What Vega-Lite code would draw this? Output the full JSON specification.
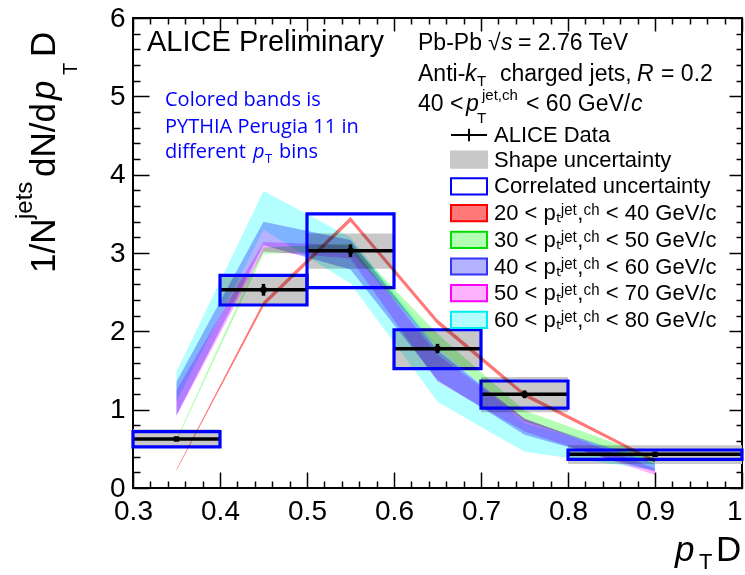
{
  "$schema": "https://vega.github.io/schema/vega-lite/v6.json",
  "width": 609,
  "height": 470,
  "autosize": "none",
  "padding": {"left": 133, "top": 18, "right": 3, "bottom": 87},
  "background": "white",
  "config": {
    "font": "Liberation Sans",
    "view": {"stroke": "black", "strokeWidth": 2},
    "text": {"font": "Liberation Sans", "color": "black", "align": "left", "baseline": "alphabetic"},
    "legend": {"title": null, "orient": "none", "legendX": 325, "legendY": 106, "padding": 0,
      "symbolSize": 324, "labelFont": "Liberation Sans", "labelFontSize": 22, "labelColor": "black",
      "labelOffset": 14, "rowPadding": 0.7, "labelLimit": 400, "symbolStrokeWidth": 2, "symbolOpacity": 1}
  },
  "resolve": {"axis": {"x": "independent", "y": "independent"}},
  "layer": [
    {
      "data": {"name": "alice", "values": [
        {"lo": 0.3, "hi": 0.4, "c": 0.35, "v": 0.626, "elo": 0.60, "ehi": 0.65, "slo": 0.51, "shi": 0.75, "clo": 0.525, "chi": 0.72},
        {"lo": 0.4, "hi": 0.5, "c": 0.45, "v": 2.53, "elo": 2.455, "ehi": 2.605, "slo": 2.34, "shi": 2.71, "clo": 2.336, "chi": 2.715},
        {"lo": 0.5, "hi": 0.6, "c": 0.55, "v": 3.03, "elo": 2.95, "ehi": 3.11, "slo": 2.80, "shi": 3.25, "clo": 2.557, "chi": 3.50},
        {"lo": 0.6, "hi": 0.7, "c": 0.65, "v": 1.778, "elo": 1.72, "ehi": 1.84, "slo": 1.53, "shi": 2.01, "clo": 1.525, "chi": 2.02},
        {"lo": 0.7, "hi": 0.8, "c": 0.75, "v": 1.196, "elo": 1.146, "ehi": 1.246, "slo": 0.966, "shi": 1.417, "clo": 1.02, "chi": 1.366},
        {"lo": 0.8, "hi": 1.0, "c": 0.9, "v": 0.43, "elo": 0.41, "ehi": 0.45, "slo": 0.306, "shi": 0.545, "clo": 0.366, "chi": 0.485}
      ]},
      "mark": {"type": "rect", "color": "#c8c8c8"},
      "encoding": {
        "x": {"field": "lo", "type": "quantitative", "scale": {"domain": [0.3, 1.0], "nice": false, "zero": false},
          "axis": {"orient": "bottom", "title": null, "domain": false, "grid": false,
            "values": [0.3,0.32,0.34,0.36,0.38,0.4,0.42,0.44,0.46,0.48,0.5,0.52,0.54,0.56,0.58,0.6,0.62,0.64,0.66,0.68,0.7,0.72,0.74,0.76,0.78,0.8,0.82,0.84,0.86,0.88,0.9,0.92,0.94,0.96,0.98,1.0],
            "labelExpr": "abs(datum.value*10 - round(datum.value*10)) < 0.001 ? (abs(datum.value - 1) < 0.001 ? '1' : format(datum.value, '.1f')) : ''",
            "labelFont": "Liberation Sans", "labelFontSize": 28, "labelColor": "black", "labelPadding": 25,
            "labelFlush": false, "labelOverlap": false, "labelBound": false,
            "labelAlign": {"condition": {"test": "datum.value > 0.999", "value": "right"}, "value": "center"},
            "tickColor": "black", "tickWidth": 1.5,
            "tickSize": {"condition": {"test": "abs(datum.value*10 - round(datum.value*10)) < 0.001", "value": -16}, "value": -7}}},
        "x2": {"field": "hi"},
        "y": {"field": "slo", "type": "quantitative", "scale": {"domain": [0, 6], "nice": false, "zero": false},
          "axis": {"orient": "left", "title": null, "domain": false, "grid": false,
            "values": [0,0.2,0.4,0.6,0.8,1,1.2,1.4,1.6,1.8,2,2.2,2.4,2.6,2.8,3,3.2,3.4,3.6,3.8,4,4.2,4.4,4.6,4.8,5,5.2,5.4,5.6,5.8,6],
            "labelExpr": "abs(datum.value - round(datum.value)) < 0.001 ? format(datum.value, 'd') : ''",
            "labelFont": "Liberation Sans", "labelFontSize": 28, "labelColor": "black", "labelPadding": 24,
            "labelFlush": false, "labelOverlap": false, "labelBound": false,
            "tickColor": "black", "tickWidth": 1.5,
            "tickSize": {"condition": {"test": "abs(datum.value - round(datum.value)) < 0.001", "value": -16}, "value": -7}}},
        "y2": {"field": "shi"}
      }
    },
    {
      "data": {"name": "alice"},
      "mark": {"type": "rule", "strokeWidth": 3.5, "color": "black"},
      "encoding": {
        "x": {"field": "lo", "type": "quantitative", "axis": null},
        "x2": {"field": "hi"},
        "y": {"field": "v", "type": "quantitative", "axis": null}
      }
    },
    {
      "data": {"name": "alice"},
      "mark": {"type": "rule", "strokeWidth": 3.5, "color": "black"},
      "encoding": {
        "x": {"field": "c", "type": "quantitative", "axis": null},
        "y": {"field": "elo", "type": "quantitative", "axis": null},
        "y2": {"field": "ehi"}
      }
    },
    {
      "data": {"name": "alice"},
      "mark": {"type": "point", "shape": "square", "filled": true, "size": 30, "color": "black", "opacity": 1},
      "encoding": {
        "x": {"field": "c", "type": "quantitative", "axis": null},
        "y": {"field": "v", "type": "quantitative", "axis": null}
      }
    },
    {
      "data": {"name": "alice"},
      "mark": {"type": "rect", "filled": false, "strokeWidth": 3.2, "stroke": "#0000ff", "fill": null},
      "encoding": {
        "x": {"field": "lo", "type": "quantitative",
          "axis": {"orient": "top", "title": null, "domain": false, "grid": false, "labels": false,
            "values": [0.3,0.32,0.34,0.36,0.38,0.4,0.42,0.44,0.46,0.48,0.5,0.52,0.54,0.56,0.58,0.6,0.62,0.64,0.66,0.68,0.7,0.72,0.74,0.76,0.78,0.8,0.82,0.84,0.86,0.88,0.9,0.92,0.94,0.96,0.98,1.0],
            "tickColor": "black", "tickWidth": 1.5,
            "tickSize": {"condition": {"test": "abs(datum.value*10 - round(datum.value*10)) < 0.001", "value": -13}, "value": -6}}},
        "x2": {"field": "hi"},
        "y": {"field": "clo", "type": "quantitative",
          "axis": {"orient": "right", "title": null, "domain": false, "grid": false, "labels": false,
            "values": [0,0.2,0.4,0.6,0.8,1,1.2,1.4,1.6,1.8,2,2.2,2.4,2.6,2.8,3,3.2,3.4,3.6,3.8,4,4.2,4.4,4.6,4.8,5,5.2,5.4,5.6,5.8,6],
            "tickColor": "black", "tickWidth": 1.5,
            "tickSize": {"condition": {"test": "abs(datum.value - round(datum.value)) < 0.001", "value": -13}, "value": -6}}},
        "y2": {"field": "chi"}
      }
    },
    {
      "data": {"values": [
        {"bin": "60 < pₜʲᵉᵗ,ᶜʰ < 80 GeV/c", "x": 0.35, "lo": 1.10, "hi": 1.485},
        {"bin": "60 < pₜʲᵉᵗ,ᶜʰ < 80 GeV/c", "x": 0.45, "lo": 3.30, "hi": 3.79},
        {"bin": "60 < pₜʲᵉᵗ,ᶜʰ < 80 GeV/c", "x": 0.55, "lo": 2.61, "hi": 3.20},
        {"bin": "60 < pₜʲᵉᵗ,ᶜʰ < 80 GeV/c", "x": 0.65, "lo": 1.10, "hi": 1.80},
        {"bin": "60 < pₜʲᵉᵗ,ᶜʰ < 80 GeV/c", "x": 0.75, "lo": 0.463, "hi": 0.826},
        {"bin": "60 < pₜʲᵉᵗ,ᶜʰ < 80 GeV/c", "x": 0.9, "lo": 0.23, "hi": 0.357},
        {"bin": "50 < pₜʲᵉᵗ,ᶜʰ < 70 GeV/c", "x": 0.35, "lo": 0.92, "hi": 1.25},
        {"bin": "50 < pₜʲᵉᵗ,ᶜʰ < 70 GeV/c", "x": 0.45, "lo": 3.02, "hi": 3.14},
        {"bin": "50 < pₜʲᵉᵗ,ᶜʰ < 70 GeV/c", "x": 0.55, "lo": 2.93, "hi": 3.10},
        {"bin": "50 < pₜʲᵉᵗ,ᶜʰ < 70 GeV/c", "x": 0.65, "lo": 1.36, "hi": 1.70},
        {"bin": "50 < pₜʲᵉᵗ,ᶜʰ < 70 GeV/c", "x": 0.75, "lo": 0.72, "hi": 0.89},
        {"bin": "50 < pₜʲᵉᵗ,ᶜʰ < 70 GeV/c", "x": 0.9, "lo": 0.166, "hi": 0.25},
        {"bin": "40 < pₜʲᵉᵗ,ᶜʰ < 60 GeV/c", "x": 0.35, "lo": 0.932, "hi": 1.357},
        {"bin": "40 < pₜʲᵉᵗ,ᶜʰ < 60 GeV/c", "x": 0.45, "lo": 3.10, "hi": 3.40},
        {"bin": "40 < pₜʲᵉᵗ,ᶜʰ < 60 GeV/c", "x": 0.55, "lo": 2.79, "hi": 3.166},
        {"bin": "40 < pₜʲᵉᵗ,ᶜʰ < 60 GeV/c", "x": 0.65, "lo": 1.38, "hi": 1.76},
        {"bin": "40 < pₜʲᵉᵗ,ᶜʰ < 60 GeV/c", "x": 0.75, "lo": 0.68, "hi": 0.88},
        {"bin": "40 < pₜʲᵉᵗ,ᶜʰ < 60 GeV/c", "x": 0.9, "lo": 0.21, "hi": 0.31},
        {"bin": "30 < pₜʲᵉᵗ,ᶜʰ < 50 GeV/c", "x": 0.35, "lo": 0.60, "hi": 0.625},
        {"bin": "30 < pₜʲᵉᵗ,ᶜʰ < 50 GeV/c", "x": 0.45, "lo": 2.99, "hi": 3.07},
        {"bin": "30 < pₜʲᵉᵗ,ᶜʰ < 50 GeV/c", "x": 0.55, "lo": 3.02, "hi": 3.12},
        {"bin": "30 < pₜʲᵉᵗ,ᶜʰ < 50 GeV/c", "x": 0.65, "lo": 1.79, "hi": 1.97},
        {"bin": "30 < pₜʲᵉᵗ,ᶜʰ < 50 GeV/c", "x": 0.75, "lo": 0.85, "hi": 0.99},
        {"bin": "30 < pₜʲᵉᵗ,ᶜʰ < 50 GeV/c", "x": 0.9, "lo": 0.32, "hi": 0.39},
        {"bin": "20 < pₜʲᵉᵗ,ᶜʰ < 40 GeV/c", "x": 0.35, "lo": 0.222, "hi": 0.238},
        {"bin": "20 < pₜʲᵉᵗ,ᶜʰ < 40 GeV/c", "x": 0.45, "lo": 2.32, "hi": 2.38},
        {"bin": "20 < pₜʲᵉᵗ,ᶜʰ < 40 GeV/c", "x": 0.55, "lo": 3.40, "hi": 3.46},
        {"bin": "20 < pₜʲᵉᵗ,ᶜʰ < 40 GeV/c", "x": 0.65, "lo": 2.09, "hi": 2.15},
        {"bin": "20 < pₜʲᵉᵗ,ᶜʰ < 40 GeV/c", "x": 0.75, "lo": 1.165, "hi": 1.215},
        {"bin": "20 < pₜʲᵉᵗ,ᶜʰ < 40 GeV/c", "x": 0.9, "lo": 0.325, "hi": 0.365}
      ]},
      "mark": {"type": "area", "interpolate": "linear", "opacity": 1, "blend": "multiply"},
      "encoding": {
        "x": {"field": "x", "type": "quantitative", "axis": null},
        "y": {"field": "lo", "type": "quantitative", "axis": null},
        "y2": {"field": "hi"},
        "color": {"field": "bin", "type": "nominal",
          "scale": {"domain": ["ALICE Data", "Shape uncertainty", "Correlated uncertainty", "20 < pₜʲᵉᵗ,ᶜʰ < 40 GeV/c", "30 < pₜʲᵉᵗ,ᶜʰ < 50 GeV/c", "40 < pₜʲᵉᵗ,ᶜʰ < 60 GeV/c", "50 < pₜʲᵉᵗ,ᶜʰ < 70 GeV/c", "60 < pₜʲᵉᵗ,ᶜʰ < 80 GeV/c"],
            "range": ["#000000", "#c8c8c8", "#ffffff", "#ff7777", "#b3ffb3", "#b3b3ff", "#ffb3ff", "#b3ffff"]}}
      }
    },
    {
      "data": {"values": [
        {"bin": "ALICE Data"}, {"bin": "Shape uncertainty"}, {"bin": "Correlated uncertainty"},
        {"bin": "20 < pₜʲᵉᵗ,ᶜʰ < 40 GeV/c"}, {"bin": "30 < pₜʲᵉᵗ,ᶜʰ < 50 GeV/c"}, {"bin": "40 < pₜʲᵉᵗ,ᶜʰ < 60 GeV/c"},
        {"bin": "50 < pₜʲᵉᵗ,ᶜʰ < 70 GeV/c"}, {"bin": "60 < pₜʲᵉᵗ,ᶜʰ < 80 GeV/c"}
      ]},
      "mark": {"type": "point", "filled": true, "opacity": 1, "size": 324, "strokeWidth": 2, "clip": true},
      "encoding": {
        "x": {"datum": 0.35, "type": "quantitative", "axis": null},
        "y": {"datum": -5, "type": "quantitative", "axis": null},
        "color": {"field": "bin", "type": "nominal"},
        "shape": {"field": "bin", "type": "nominal",
          "scale": {"domain": ["ALICE Data", "Shape uncertainty", "Correlated uncertainty", "20 < pₜʲᵉᵗ,ᶜʰ < 40 GeV/c", "30 < pₜʲᵉᵗ,ᶜʰ < 50 GeV/c", "40 < pₜʲᵉᵗ,ᶜʰ < 60 GeV/c", "50 < pₜʲᵉᵗ,ᶜʰ < 70 GeV/c", "60 < pₜʲᵉᵗ,ᶜʰ < 80 GeV/c"],
            "range": ["M-2,0H2M0,-0.7V0.7", "M-2,-0.9H2V0.9H-2Z", "M-2,-0.9H2V0.9H-2Z", "M-2,-0.9H2V0.9H-2Z", "M-2,-0.9H2V0.9H-2Z", "M-2,-0.9H2V0.9H-2Z", "M-2,-0.9H2V0.9H-2Z", "M-2,-0.9H2V0.9H-2Z"]}},
        "stroke": {"field": "bin", "type": "nominal",
          "scale": {"domain": ["ALICE Data", "Shape uncertainty", "Correlated uncertainty", "20 < pₜʲᵉᵗ,ᶜʰ < 40 GeV/c", "30 < pₜʲᵉᵗ,ᶜʰ < 50 GeV/c", "40 < pₜʲᵉᵗ,ᶜʰ < 60 GeV/c", "50 < pₜʲᵉᵗ,ᶜʰ < 70 GeV/c", "60 < pₜʲᵉᵗ,ᶜʰ < 80 GeV/c"],
            "range": ["#000000", "#c8c8c8", "#0000ff", "#ff0000", "#00dd00", "#3333ff", "#ff00ff", "#00eeee"]}}
      }
    },
    {"data": {"values": [{}]}, "mark": {"type": "text", "text": "ALICE Preliminary", "fontSize": 29},
     "encoding": {"x": {"datum": 0.3161, "type": "quantitative", "axis": null}, "y": {"datum": 5.579, "type": "quantitative", "axis": null}}},
    {"data": {"values": [{}]}, "mark": {"type": "text", "text": "Pb-Pb", "fontSize": 23},
     "encoding": {"x": {"datum": 0.6276, "type": "quantitative", "axis": null}, "y": {"datum": 5.591, "type": "quantitative", "axis": null}}},
    {"data": {"values": [{}]}, "mark": {"type": "text", "text": "√", "fontSize": 23, "dx": 70},
     "encoding": {"x": {"datum": 0.6276, "type": "quantitative", "axis": null}, "y": {"datum": 5.591, "type": "quantitative", "axis": null}}},
    {"data": {"values": [{}]}, "mark": {"type": "text", "text": "s", "fontSize": 23, "fontStyle": "italic", "dx": 83},
     "encoding": {"x": {"datum": 0.6276, "type": "quantitative", "axis": null}, "y": {"datum": 5.591, "type": "quantitative", "axis": null}}},
    {"data": {"values": [{}]}, "mark": {"type": "text", "text": "= 2.76 TeV", "fontSize": 23, "dx": 100},
     "encoding": {"x": {"datum": 0.6276, "type": "quantitative", "axis": null}, "y": {"datum": 5.591, "type": "quantitative", "axis": null}}},
    {"data": {"values": [{}]}, "mark": {"type": "text", "text": "Anti-", "fontSize": 23},
     "encoding": {"x": {"datum": 0.6276, "type": "quantitative", "axis": null}, "y": {"datum": 5.196, "type": "quantitative", "axis": null}}},
    {"data": {"values": [{}]}, "mark": {"type": "text", "text": "k", "fontSize": 23, "fontStyle": "italic", "dx": 47},
     "encoding": {"x": {"datum": 0.6276, "type": "quantitative", "axis": null}, "y": {"datum": 5.196, "type": "quantitative", "axis": null}}},
    {"data": {"values": [{}]}, "mark": {"type": "text", "text": "T", "fontSize": 15, "dx": 59, "dy": 5},
     "encoding": {"x": {"datum": 0.6276, "type": "quantitative", "axis": null}, "y": {"datum": 5.196, "type": "quantitative", "axis": null}}},
    {"data": {"values": [{}]}, "mark": {"type": "text", "text": "charged jets,", "fontSize": 23, "dx": 82},
     "encoding": {"x": {"datum": 0.6276, "type": "quantitative", "axis": null}, "y": {"datum": 5.196, "type": "quantitative", "axis": null}}},
    {"data": {"values": [{}]}, "mark": {"type": "text", "text": "R", "fontSize": 23, "fontStyle": "italic", "dx": 219},
     "encoding": {"x": {"datum": 0.6276, "type": "quantitative", "axis": null}, "y": {"datum": 5.196, "type": "quantitative", "axis": null}}},
    {"data": {"values": [{}]}, "mark": {"type": "text", "text": "= 0.2", "fontSize": 23, "dx": 243},
     "encoding": {"x": {"datum": 0.6276, "type": "quantitative", "axis": null}, "y": {"datum": 5.196, "type": "quantitative", "axis": null}}},
    {"data": {"values": [{}]}, "mark": {"type": "text", "text": "40 <", "fontSize": 23},
     "encoding": {"x": {"datum": 0.6276, "type": "quantitative", "axis": null}, "y": {"datum": 4.813, "type": "quantitative", "axis": null}}},
    {"data": {"values": [{}]}, "mark": {"type": "text", "text": "p", "fontSize": 23, "fontStyle": "italic", "dx": 48},
     "encoding": {"x": {"datum": 0.6276, "type": "quantitative", "axis": null}, "y": {"datum": 4.813, "type": "quantitative", "axis": null}}},
    {"data": {"values": [{}]}, "mark": {"type": "text", "text": "T", "fontSize": 15, "dx": 59, "dy": 12},
     "encoding": {"x": {"datum": 0.6276, "type": "quantitative", "axis": null}, "y": {"datum": 4.813, "type": "quantitative", "axis": null}}},
    {"data": {"values": [{}]}, "mark": {"type": "text", "text": "jet,ch", "fontSize": 15, "dx": 64, "dy": -11},
     "encoding": {"x": {"datum": 0.6276, "type": "quantitative", "axis": null}, "y": {"datum": 4.813, "type": "quantitative", "axis": null}}},
    {"data": {"values": [{}]}, "mark": {"type": "text", "text": "< 60 GeV/", "fontSize": 23, "dx": 108},
     "encoding": {"x": {"datum": 0.6276, "type": "quantitative", "axis": null}, "y": {"datum": 4.813, "type": "quantitative", "axis": null}}},
    {"data": {"values": [{}]}, "mark": {"type": "text", "text": "c", "fontSize": 23, "fontStyle": "italic", "dx": 213},
     "encoding": {"x": {"datum": 0.6276, "type": "quantitative", "axis": null}, "y": {"datum": 4.813, "type": "quantitative", "axis": null}}},
    {"data": {"values": [{}]}, "mark": {"type": "text", "text": "Colored bands is", "font": "Open Sans", "fontSize": 20, "color": "#0000ff"},
     "encoding": {"x": {"datum": 0.3368, "type": "quantitative", "axis": null}, "y": {"datum": 4.877, "type": "quantitative", "axis": null}}},
    {"data": {"values": [{}]}, "mark": {"type": "text", "text": "PYTHIA Perugia 11 in", "font": "Open Sans", "fontSize": 20, "color": "#0000ff"},
     "encoding": {"x": {"datum": 0.3368, "type": "quantitative", "axis": null}, "y": {"datum": 4.536, "type": "quantitative", "axis": null}}},
    {"data": {"values": [{}]}, "mark": {"type": "text", "text": "different", "font": "Open Sans", "fontSize": 20, "color": "#0000ff"},
     "encoding": {"x": {"datum": 0.3368, "type": "quantitative", "axis": null}, "y": {"datum": 4.209, "type": "quantitative", "axis": null}}},
    {"data": {"values": [{}]}, "mark": {"type": "text", "text": "p", "font": "Open Sans", "fontSize": 20, "fontStyle": "italic", "color": "#0000ff", "dx": 88},
     "encoding": {"x": {"datum": 0.3368, "type": "quantitative", "axis": null}, "y": {"datum": 4.209, "type": "quantitative", "axis": null}}},
    {"data": {"values": [{}]}, "mark": {"type": "text", "text": "T", "font": "Open Sans", "fontSize": 13, "color": "#0000ff", "dx": 100, "dy": 5},
     "encoding": {"x": {"datum": 0.3368, "type": "quantitative", "axis": null}, "y": {"datum": 4.209, "type": "quantitative", "axis": null}}},
    {"data": {"values": [{}]}, "mark": {"type": "text", "text": "bins", "font": "Open Sans", "fontSize": 20, "color": "#0000ff", "dx": 114},
     "encoding": {"x": {"datum": 0.3368, "type": "quantitative", "axis": null}, "y": {"datum": 4.209, "type": "quantitative", "axis": null}}},
    {"data": {"values": [{}]}, "mark": {"type": "text", "text": "p", "fontSize": 35, "fontStyle": "italic"},
     "encoding": {"x": {"datum": 0.923, "type": "quantitative", "axis": null}, "y": {"datum": -0.93, "type": "quantitative", "axis": null}}},
    {"data": {"values": [{}]}, "mark": {"type": "text", "text": "T", "fontSize": 22, "dx": 24, "dy": 8},
     "encoding": {"x": {"datum": 0.923, "type": "quantitative", "axis": null}, "y": {"datum": -0.93, "type": "quantitative", "axis": null}}},
    {"data": {"values": [{}]}, "mark": {"type": "text", "text": "D", "fontSize": 35, "dx": 41},
     "encoding": {"x": {"datum": 0.923, "type": "quantitative", "axis": null}, "y": {"datum": -0.93, "type": "quantitative", "axis": null}}},
    {"data": {"values": [{}]}, "mark": {"type": "text", "text": "1/N", "fontSize": 35, "angle": 270},
     "encoding": {"x": {"datum": 0.2103, "type": "quantitative", "axis": null}, "y": {"datum": 2.745, "type": "quantitative", "axis": null}}},
    {"data": {"values": [{}]}, "mark": {"type": "text", "text": "jets", "fontSize": 24, "angle": 270, "dx": 54, "dy": -23},
     "encoding": {"x": {"datum": 0.2103, "type": "quantitative", "axis": null}, "y": {"datum": 2.745, "type": "quantitative", "axis": null}}},
    {"data": {"values": [{}]}, "mark": {"type": "text", "text": "dN/d", "fontSize": 35, "angle": 270, "dx": 96},
     "encoding": {"x": {"datum": 0.2103, "type": "quantitative", "axis": null}, "y": {"datum": 2.745, "type": "quantitative", "axis": null}}},
    {"data": {"values": [{}]}, "mark": {"type": "text", "text": "p", "fontSize": 35, "fontStyle": "italic", "angle": 270, "dx": 173},
     "encoding": {"x": {"datum": 0.2103, "type": "quantitative", "axis": null}, "y": {"datum": 2.745, "type": "quantitative", "axis": null}}},
    {"data": {"values": [{}]}, "mark": {"type": "text", "text": "T", "fontSize": 20, "angle": 270, "dx": 198, "dy": 22},
     "encoding": {"x": {"datum": 0.2103, "type": "quantitative", "axis": null}, "y": {"datum": 2.745, "type": "quantitative", "axis": null}}},
    {"data": {"values": [{}]}, "mark": {"type": "text", "text": "D", "fontSize": 35, "angle": 270, "dx": 216},
     "encoding": {"x": {"datum": 0.2103, "type": "quantitative", "axis": null}, "y": {"datum": 2.745, "type": "quantitative", "axis": null}}}
  ]
}
